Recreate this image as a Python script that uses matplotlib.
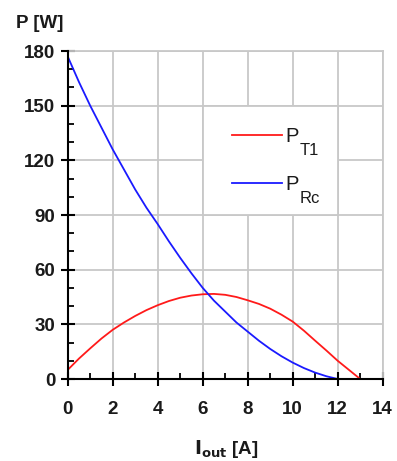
import matplotlib
matplotlib.use("Agg")
import matplotlib.pyplot as plt
from matplotlib.patches import Rectangle
from matplotlib.ticker import MultipleLocator

plt.rcParams['font.family'] = ['Liberation Sans', 'DejaVu Sans']

i_out = [0, 0.5, 1, 1.5, 2, 2.5, 3, 3.5, 4, 4.5, 5, 5.5, 6, 6.5, 7, 7.5, 8,
         8.5, 9, 9.5, 10, 10.5, 11, 11.5, 12, 12.5, 13]
p_t1 = [5, 11.2, 16.8, 22.2, 27, 31, 34.6, 37.8, 40.5, 42.8, 44.6, 45.8, 46.5,
        46.7, 46.2, 45, 43.2, 41.2, 38.6, 35.3, 31.5, 26.5, 21, 15.6, 10, 5, 0]
p_rc = [177, 163, 150, 138, 126, 115, 104, 94, 85, 75.5, 66.5, 58, 50, 43, 37,
        31, 26, 21, 16.5, 12.5, 9, 6, 3.5, 1.5, 0, 0, 0]

x_ticks = [0, 2, 4, 6, 8, 10, 12, 14]
y_ticks = [0, 30, 60, 90, 120, 150, 180]
series_main = ['P', 'P']
series_sub = ['T1', 'Rc']

W, H = 397, 461
fig = plt.figure(figsize=(W / 100, H / 100), dpi=100)
ax = fig.add_axes([67.7 / W, 1 - 379 / H, (382.7 - 67.7) / W, (379 - 51) / H])

grid_c = '#c8c8c8'
txt_c = '#1a1a1a'
ax.set_xlim(0, 14)
ax.set_ylim(0, 180)
ax.set_xticks(x_ticks)
ax.set_yticks(y_ticks)
ax.xaxis.set_minor_locator(MultipleLocator(1))
ax.yaxis.set_minor_locator(MultipleLocator(10))
ax.grid(True, which='major', color=grid_c, linewidth=1.3)
ax.set_axisbelow(True)

for s in ['top', 'right']:
    ax.spines[s].set_color(grid_c)
    ax.spines[s].set_linewidth(1.3)
for s in ['left', 'bottom']:
    ax.spines[s].set_color('black')
    ax.spines[s].set_linewidth(1.5)
    ax.spines[s].set_zorder(5)

ax.tick_params(which='major', direction='inout', length=10, width=1.5,
               color='black', labelsize=13.5, labelcolor=txt_c)
ax.tick_params(which='minor', direction='in', length=4, width=1.3, color='black')
ax.tick_params(axis='x', which='major', pad=11)
ax.tick_params(axis='y', which='major', pad=4)
for lab in ax.get_xticklabels() + ax.get_yticklabels():
    lab.set_fontweight('bold')

ax.plot(i_out, p_t1, color='#ff1a1a', linewidth=1.3, label=series_main[0], zorder=3)
ax.plot(i_out, p_rc, color='#1a1aff', linewidth=1.3, label=series_main[1], zorder=3)

# legend box occupying a grid cell
ax.add_patch(Rectangle((6, 90), 6, 60, facecolor='white', edgecolor=grid_c,
                       linewidth=1.3, zorder=2))
leg = ax.legend(loc='center left', bbox_to_anchor=(7.28, 119.8),
                bbox_transform=ax.transData, frameon=False, fontsize=14.5,
                handlelength=2.5, handletextpad=0.17, labelspacing=1.45,
                borderaxespad=0, borderpad=0)
leg.set_zorder(6)
for t in leg.get_texts():
    t.set_color(txt_c)

fig.canvas.draw()
renderer = fig.canvas.get_renderer()
for t, sub in zip(leg.get_texts(), series_sub):
    bb = t.get_window_extent(renderer)
    descent = 0.21 * 14.5 * 100 / 72
    baseline = bb.y0 + descent
    fig.text(bb.x1 + 0.5, baseline - 1.0, sub, transform=None, fontsize=12,
             color=txt_c, ha='left', va='top', zorder=7)

fig.text(16 / W, 1 - 24 / H, 'P [W]', fontsize=13.5, fontweight='bold',
         color=txt_c, ha='left', va='center')
fig.text(226 / W, 1 - 449 / H, r'$\mathregular{\bf{I_{out}}}$ [A]', fontsize=13.5,
         fontweight='bold', color=txt_c, ha='center', va='center')

fig.savefig('out.png', dpi=100)
